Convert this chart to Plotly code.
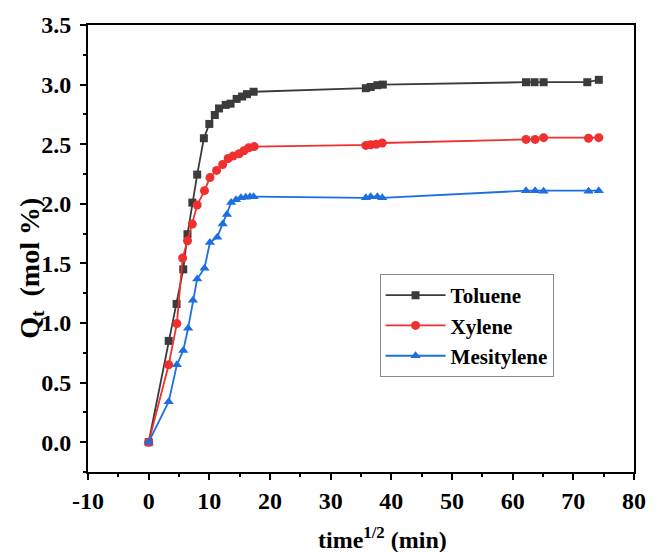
import plotly.graph_objects as go

# sqrt(time) positions and uptake values for each aromatic
toluene_x = [0, 3.3, 4.6, 5.7, 6.4, 7.2, 8.0, 9.1, 10.0, 10.9, 11.6, 12.7, 13.5, 14.5, 15.4, 16.2, 17.3,
             35.8, 36.6, 37.7, 38.6, 62.2, 63.6, 65.1, 72.3, 74.2]
toluene_y = [0, 0.85, 1.16, 1.45, 1.745, 2.01, 2.245, 2.55, 2.67, 2.745, 2.80, 2.83, 2.84, 2.88, 2.90, 2.92, 2.94,
             2.97, 2.98, 2.995, 3.0, 3.02, 3.02, 3.02, 3.02, 3.04]

xylene_x = [0, 3.3, 4.65, 5.6, 6.4, 7.2, 8.0, 9.2, 10.1, 11.2, 12.2, 13.1, 13.9, 14.9, 15.7, 16.5, 17.4,
            35.8, 36.6, 37.5, 38.5, 62.2, 63.7, 65.1, 72.5, 74.2]
xylene_y = [0, 0.65, 0.995, 1.545, 1.69, 1.83, 1.99, 2.11, 2.22, 2.28, 2.33, 2.38, 2.40, 2.42, 2.445, 2.47, 2.48,
            2.49, 2.495, 2.50, 2.51, 2.54, 2.54, 2.555, 2.55, 2.555]

mesitylene_x = [0, 3.3, 4.65, 5.7, 6.5, 7.3, 8.0, 9.2, 10.1, 11.3, 12.2, 12.9, 13.6, 14.4, 15.2, 16.0, 16.7, 17.3,
                35.8, 36.6, 37.7, 38.5, 62.2, 63.7, 65.1, 72.5, 74.2]
mesitylene_y = [0, 0.34, 0.65, 0.77, 0.955, 1.19, 1.37, 1.46, 1.675, 1.72, 1.83, 1.91, 2.01, 2.035, 2.05, 2.055, 2.06, 2.06,
                2.05, 2.06, 2.06, 2.05, 2.11, 2.11, 2.105, 2.105, 2.11]

x_tickvals = [-10, 0, 10, 20, 30, 40, 50, 60, 70, 80]
x_ticktext = ["-10", "0", "10", "20", "30", "40", "50", "60", "70", "80"]
y_tickvals = [0.0, 0.5, 1.0, 1.5, 2.0, 2.5, 3.0, 3.5]

FONT = "Liberation Serif"
NB = "\u00a0"

fig = go.Figure()
series = [
    ("Toluene", toluene_x, toluene_y, "#3b3b3b", "square", 8),
    ("Xylene", xylene_x, xylene_y, "#f02f2f", "circle", 9),
    ("Mesitylene", mesitylene_x, mesitylene_y, "#1c6fe0", "triangle-up", 9),
]
for name, xs, ys, color, symbol, size in series:
    fig.add_trace(go.Scatter(
        x=xs, y=ys, name=name, mode="lines+markers",
        line=dict(color=color, width=1.8),
        marker=dict(color=color, symbol=symbol, size=size, line=dict(width=0)),
    ))

axis_common = dict(
    showline=True, linecolor="black", linewidth=2, mirror=True,
    showgrid=False, zeroline=False,
    ticks="outside", ticklen=6, tickwidth=2, tickcolor="black",
    tickfont=dict(family=FONT, size=24, color="black", weight="bold"),
)

fig.update_xaxes(
    range=[-10, 80], tickmode="array", tickvals=x_tickvals, ticktext=x_ticktext,
    minor=dict(ticks="outside", ticklen=3, tickwidth=2, tickcolor="black", dtick=5, tick0=0),
    **axis_common,
)
fig.update_yaxes(
    range=[-0.25, 3.5], tickmode="array", tickvals=y_tickvals, tickformat=".1f",
    minor=dict(ticks="outside", ticklen=3, tickwidth=2, tickcolor="black", dtick=0.25, tick0=0),
    ticklabelstandoff=4,
    **axis_common,
)

# axis titles as free annotations so they can sit exactly where wanted
title_font = dict(family=FONT, color="black", weight="bold")
fig.add_annotation(
    text="time<sup>1/2</sup>" + NB + "(min)", xref="paper", yref="paper",
    x=0.54, y=-0.148, xanchor="center", yanchor="middle", showarrow=False,
    font=dict(size=24, **title_font),
)
fig.add_annotation(
    text="Q<sub>t</sub>" + NB * 2 + "(mol %)", xref="paper", yref="paper",
    x=-0.104, y=0.455, xanchor="center", yanchor="middle", showarrow=False, textangle=-90,
    font=dict(size=28, **title_font),
)

fig.update_layout(
    width=658, height=552,
    margin=dict(l=88, r=12, t=23, b=80),
    paper_bgcolor="white", plot_bgcolor="white",
    legend=dict(
        x=0.534, y=0.443, xanchor="left", yanchor="top",
        bgcolor="white", bordercolor="#8a8a8a", borderwidth=1,
        font=dict(family=FONT, size=21, color="black", weight="bold"),
        itemwidth=60, tracegroupgap=0,
    ),
    showlegend=True,
)

fig.write_html("out.html")
